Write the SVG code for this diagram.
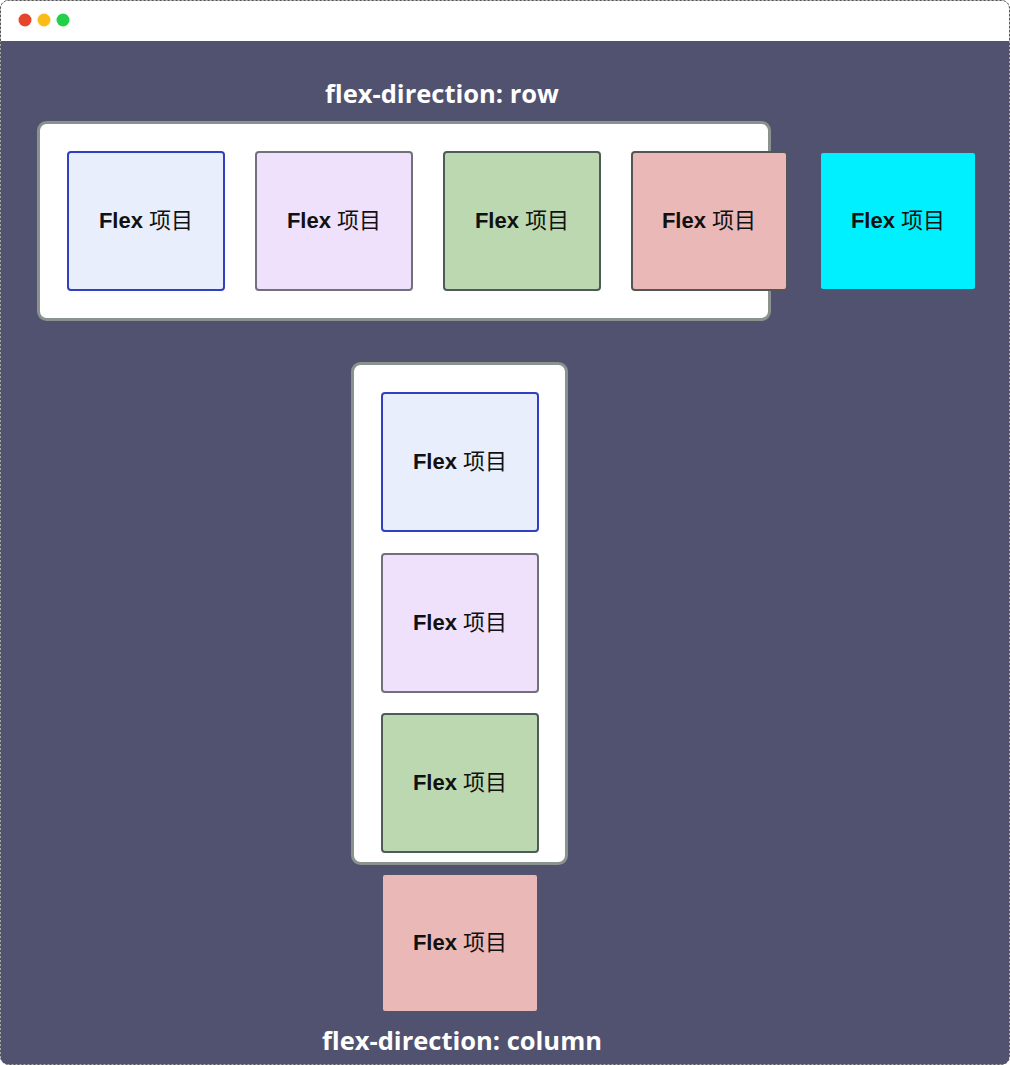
<svg xmlns="http://www.w3.org/2000/svg" width="1010" height="1065" viewBox="0 0 1010 1065">
<style>
.lbl{font-family:"Liberation Sans","Noto Sans CJK SC",sans-serif;font-size:22px;fill:#111;text-anchor:middle;dominant-baseline:central}
.lbl .en{font-weight:bold}
.title{font-family:"Open Sans","Liberation Sans",sans-serif;font-size:25.5px;font-weight:bold;fill:#fff;text-anchor:middle}
.box{fill:#fff;stroke:#8a928e;stroke-width:3}
.blue{fill:#e8eefc;stroke:#3040c0;stroke-width:2}
.purple{fill:#efe0fc;stroke:#70707e;stroke-width:2}
.green{fill:#bcd8b0;stroke:#4d5c58;stroke-width:2}
.pink{fill:#ebb8b8;stroke:#555;stroke-width:2}
</style>
<rect x="0.5" y="0.5" width="1009" height="1064" rx="8" fill="#505270" stroke="#555" stroke-dasharray="2,2"/>
<path d="M0.5 8.5 A8 8 0 0 1 8.5 0.5 H1001.5 A8 8 0 0 1 1009.5 8.5 V41 H0.5 Z" fill="#fff"/>
<path d="M0.5 41 V8.5 A8 8 0 0 1 8.5 0.5 H1001.5 A8 8 0 0 1 1009.5 8.5 V41" fill="none" stroke="#555" stroke-dasharray="2,2"/>
<circle cx="25" cy="20" r="6.5" fill="#e5452a"/>
<circle cx="44" cy="20" r="6.5" fill="#fbbc1a"/>
<circle cx="63" cy="20" r="6.5" fill="#22d04a"/>
<g id="title-row"><text class="title" x="442" y="103">flex-direction: row</text></g>
<g id="row-container"><rect class="box" x="38.5" y="122.5" width="731" height="197" rx="8"/></g>
<g id="row-item-1"><rect class="blue" x="68" y="152" width="156" height="138" rx="3"/><text class="lbl" x="146" y="220"><tspan class="en">Flex</tspan> 项目</text></g>
<g id="row-item-2"><rect class="purple" x="256" y="152" width="156" height="138" rx="3"/><text class="lbl" x="334" y="220"><tspan class="en">Flex</tspan> 项目</text></g>
<g id="row-item-3"><rect class="green" x="444" y="152" width="156" height="138" rx="3"/><text class="lbl" x="522" y="220"><tspan class="en">Flex</tspan> 项目</text></g>
<g id="row-item-4"><rect class="pink" x="632" y="152" width="155" height="138" rx="3"/><text class="lbl" x="709" y="220"><tspan class="en">Flex</tspan> 项目</text></g>
<g id="row-item-5"><rect x="821" y="153" width="154" height="136" rx="2" fill="#00f0ff"/><text class="lbl" x="898" y="220"><tspan class="en">Flex</tspan> 项目</text></g>
<g id="column-container"><rect class="box" x="352.5" y="363.5" width="214" height="500" rx="8"/></g>
<g id="col-item-1"><rect class="blue" x="382" y="393" width="156" height="138" rx="3"/><text class="lbl" x="460" y="461"><tspan class="en">Flex</tspan> 项目</text></g>
<g id="col-item-2"><rect class="purple" x="382" y="554" width="156" height="138" rx="3"/><text class="lbl" x="460" y="622"><tspan class="en">Flex</tspan> 项目</text></g>
<g id="col-item-3"><rect class="green" x="382" y="714" width="156" height="138" rx="3"/><text class="lbl" x="460" y="782"><tspan class="en">Flex</tspan> 项目</text></g>
<g id="col-item-4"><rect x="383" y="875" width="154" height="136" rx="2" fill="#ebb8b8"/><text class="lbl" x="460" y="942"><tspan class="en">Flex</tspan> 项目</text></g>
<g id="title-column"><text class="title" x="462" y="1050">flex-direction: column</text></g>
<g id="connectors"></g>
</svg>
